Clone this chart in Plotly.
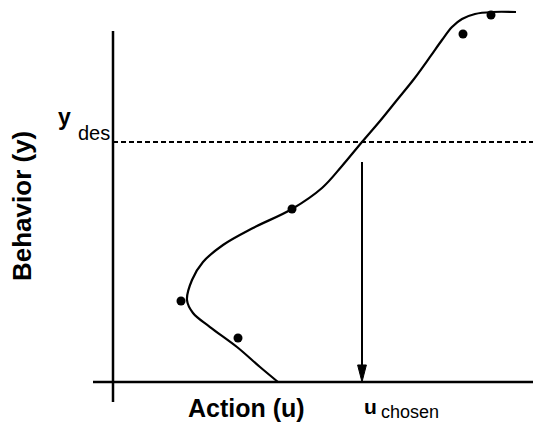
import plotly.graph_objects as go

# ---- data (arbitrary units; origin at the axes crossing) ----
curve_u = [4.125, 3.675, 3.1, 2.425, 2.0, 1.85, 1.975, 2.25, 2.75, 3.5, 4.475,
           5.225, 5.725, 6.225, 6.675, 7.1, 7.525, 7.925, 8.225, 8.475, 8.725,
           9.05, 9.475, 10.075]
curve_y = [0.0, 0.405, 0.946, 1.486, 1.865, 2.216, 2.757, 3.243, 3.703, 4.162, 4.676,
           5.243, 5.838, 6.486, 7.054, 7.622, 8.189, 8.784, 9.243, 9.595, 9.811,
           9.946, 10.0, 10.0]

obs_u = [1.7, 3.125, 4.475, 8.75, 9.45]
obs_y = [2.189, 1.189, 4.676, 9.405, 9.919]

y_des = 6.486
u_chosen = 6.225
arrow_top = 5.946

x_range = [-2.825, 10.5]
y_range = [-1.108, 10.324]

FONT = "Liberation Sans, Arial, Helvetica, sans-serif"

fig = go.Figure()

# axes lines
fig.add_trace(go.Scatter(x=[0, 0], y=[-0.54, 9.486], mode="lines",
                         line=dict(color="black", width=2.5), hoverinfo="skip"))
fig.add_trace(go.Scatter(x=[-0.5, x_range[1]], y=[0, 0], mode="lines",
                         line=dict(color="black", width=2.5), hoverinfo="skip"))

# desired behaviour dashed line
fig.add_trace(go.Scatter(x=[0, x_range[1]], y=[y_des, y_des], mode="lines",
                         line=dict(color="black", width=2, dash="5px,3px"), hoverinfo="skip"))

# fitted curve
fig.add_trace(go.Scatter(x=curve_u, y=curve_y, mode="lines",
                         line=dict(color="black", width=2.2, shape="spline", smoothing=1.0),
                         hoverinfo="skip"))

# observations
fig.add_trace(go.Scatter(x=obs_u, y=obs_y, mode="markers",
                         marker=dict(color="black", size=9), hoverinfo="skip"))

# arrow down to u_chosen
head_len = 0.46
head_half = 0.11
fig.add_trace(go.Scatter(x=[u_chosen, u_chosen], y=[arrow_top, head_len * 0.5], mode="lines",
                         line=dict(color="black", width=2), hoverinfo="skip"))
fig.add_shape(type="path",
              path=f"M {u_chosen - head_half},{head_len} L {u_chosen + head_half},{head_len} L {u_chosen},0 Z",
              xref="x", yref="y", fillcolor="black", line=dict(color="black", width=1))

ann = []
ann.append(dict(text="<b>Behavior (y)</b>", x=22 / 533, y=1 - 206 / 423, xref="paper", yref="paper",
                textangle=-90, showarrow=False, font=dict(size=26, family=FONT, color="black"),
                xanchor="center", yanchor="middle"))
ann.append(dict(text="<b>Action (u)</b>", x=246 / 533, y=0, xref="paper", yref="paper",
                showarrow=False, font=dict(size=25, family=FONT, color="black"),
                xanchor="center", yanchor="bottom", borderpad=0))
ann.append(dict(text="<b>u</b>", x=362 / 533, y=1 - 406 / 423, xref="paper", yref="paper",
                showarrow=False, font=dict(size=21, family=FONT, color="black"),
                xanchor="left", yanchor="middle"))
ann.append(dict(text="chosen", x=380 / 533, y=0, xref="paper", yref="paper",
                showarrow=False, font=dict(size=18, family=FONT, color="black"),
                xanchor="left", yanchor="bottom", borderpad=0))
ann.append(dict(text="<b>y</b>", x=56 / 533, y=1 - 117 / 423, xref="paper", yref="paper",
                showarrow=False, font=dict(size=23, family=FONT, color="black"),
                xanchor="left", yanchor="middle"))
ann.append(dict(text="des", x=76 / 533, y=1 - 133 / 423, xref="paper", yref="paper",
                showarrow=False, font=dict(size=20, family=FONT, color="black"),
                xanchor="left", yanchor="middle"))

fig.update_layout(
    width=533, height=423,
    margin=dict(l=0, r=0, t=0, b=0),
    paper_bgcolor="white", plot_bgcolor="white",
    showlegend=False,
    xaxis=dict(range=x_range, visible=False, fixedrange=True),
    yaxis=dict(range=y_range, visible=False, fixedrange=True),
    annotations=ann,
)

fig.write_html("out.html", config={"displayModeBar": False},
               post_script="document.body.style.margin='0';")
